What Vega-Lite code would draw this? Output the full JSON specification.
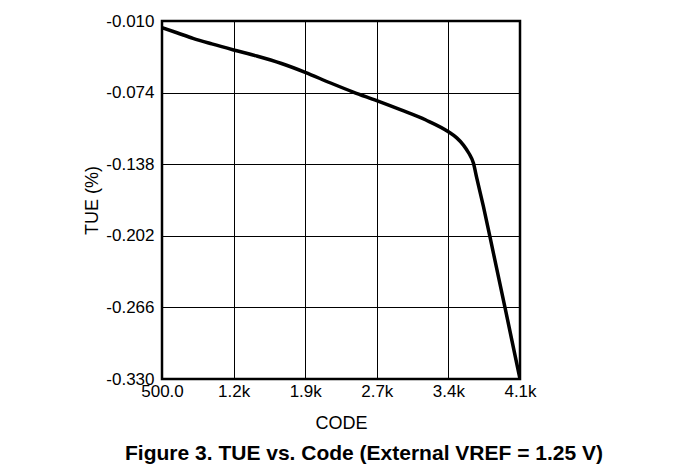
{
  "$schema": "https://vega.github.io/schema/vega-lite/v6.json",
  "width": 358,
  "height": 358,
  "autosize": {"type": "none"},
  "padding": {"left": 162, "top": 21, "right": 153, "bottom": 93},
  "background": "white",
  "title": {
    "text": "Figure 3. TUE vs. Code (External VREF = 1.25 V)",
    "orient": "bottom",
    "anchor": "middle",
    "frame": "group",
    "dx": 23,
    "offset": 11,
    "font": "Liberation Sans",
    "fontSize": 21,
    "fontWeight": "bold",
    "color": "#000"
  },
  "config": {
    "view": {"stroke": "#000", "strokeWidth": 2.5},
    "axis": {
      "labelFont": "Liberation Sans",
      "titleFont": "Liberation Sans",
      "labelColor": "#000",
      "titleColor": "#000",
      "labelFontSize": 17,
      "titleFontSize": 18,
      "titleFontWeight": "normal",
      "grid": true,
      "gridColor": "#000",
      "gridOpacity": 1,
      "gridWidth": 1,
      "ticks": false,
      "domain": false
    }
  },
  "data": {
    "values": [
      {"code": 500, "tue": -0.016},
      {"code": 650, "tue": -0.0205},
      {"code": 811, "tue": -0.0255},
      {"code": 1000, "tue": -0.0305},
      {"code": 1219, "tue": -0.0359},
      {"code": 1451, "tue": -0.0413},
      {"code": 1700, "tue": -0.048},
      {"code": 1938, "tue": -0.0559},
      {"code": 2187, "tue": -0.0652},
      {"code": 2420, "tue": -0.0735},
      {"code": 2656, "tue": -0.0812},
      {"code": 2900, "tue": -0.0895},
      {"code": 3150, "tue": -0.0985},
      {"code": 3376, "tue": -0.109},
      {"code": 3460, "tue": -0.1145},
      {"code": 3527, "tue": -0.1209},
      {"code": 3580, "tue": -0.128},
      {"code": 3627, "tue": -0.137},
      {"code": 3660, "tue": -0.15},
      {"code": 3728, "tue": -0.176},
      {"code": 3793, "tue": -0.2028},
      {"code": 3944, "tue": -0.266},
      {"code": 4095, "tue": -0.33}
    ]
  },
  "mark": {"type": "line", "color": "#000", "strokeWidth": 3.5, "interpolate": "monotone", "clip": true},
  "encoding": {
    "x": {
      "field": "code",
      "type": "quantitative",
      "scale": {"domain": [500, 4095], "nice": false, "zero": false},
      "axis": {
        "values": [500, 1219, 1938, 2657, 3376, 4095],
        "labelExpr": "datum.value < 1000 ? format(datum.value, '.1f') : format(datum.value / 1000, '.1f') + 'k'",
        "labelPadding": 4,
        "labelDx": -3,
        "labelFlush": false,
        "title": "CODE",
        "titleY": 49,
        "titleBaseline": "alphabetic"
      }
    },
    "y": {
      "field": "tue",
      "type": "quantitative",
      "scale": {"domain": [-0.33, -0.01], "nice": false, "zero": false},
      "axis": {
        "values": [-0.01, -0.074, -0.138, -0.202, -0.266, -0.33],
        "labelExpr": "datum.value < 0 ? '-' + format(-datum.value, '.3f') : format(datum.value, '.3f')",
        "labelPadding": 8,
        "labelDy": -1.5,
        "labelFlush": false,
        "title": "TUE (%)",
        "titleX": -65,
        "titleBaseline": "alphabetic"
      }
    }
  }
}
